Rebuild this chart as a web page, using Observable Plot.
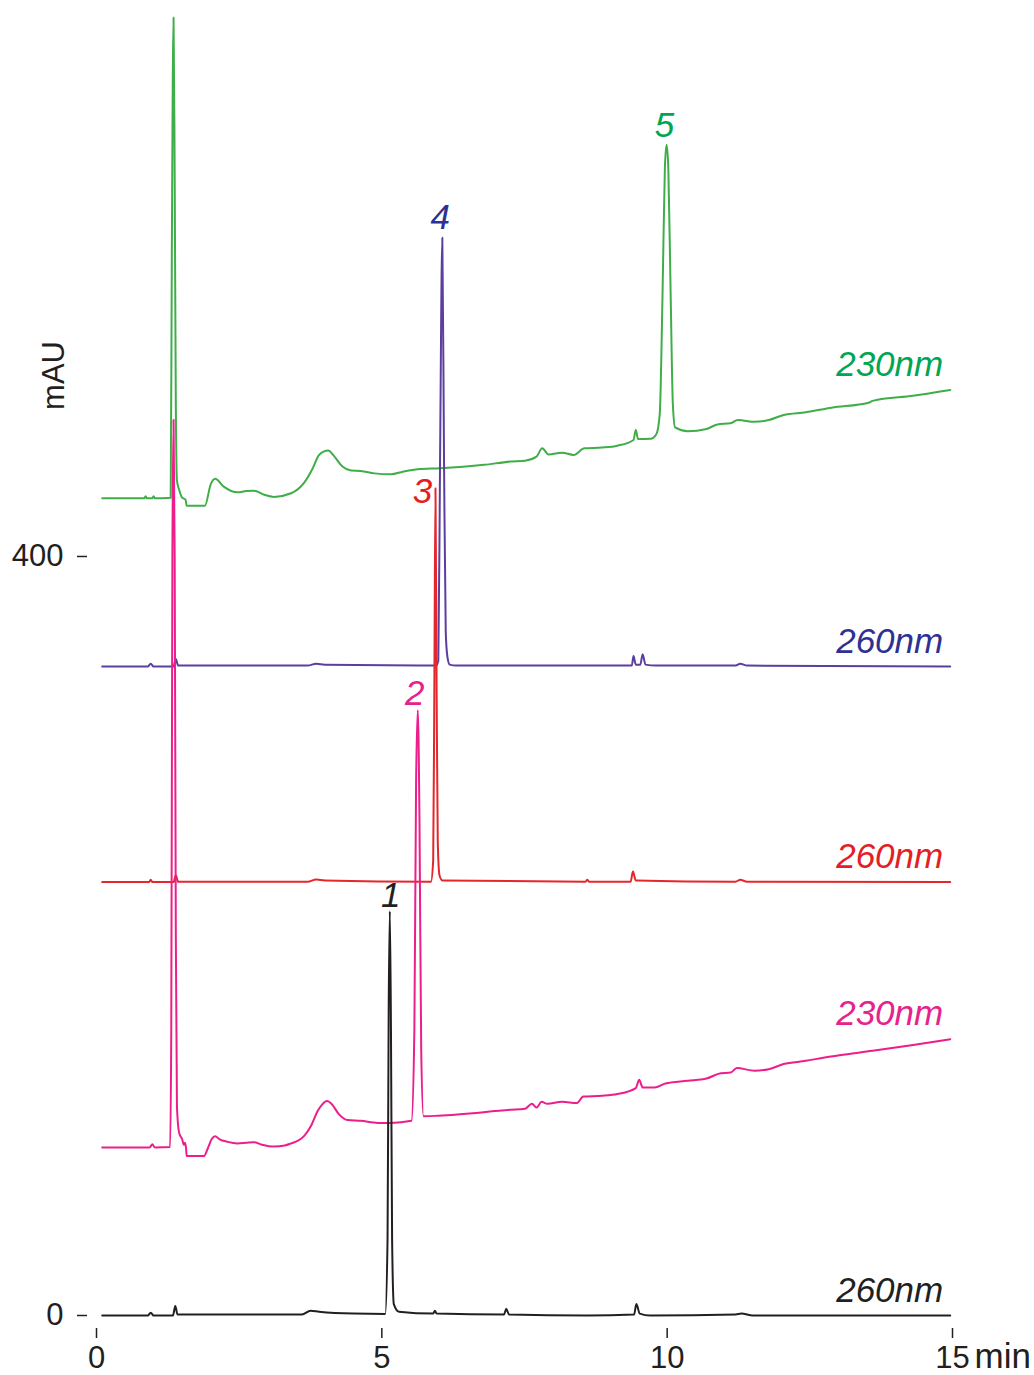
<!DOCTYPE html>
<html><head><meta charset="utf-8">
<script src="https://cdn.jsdelivr.net/npm/d3@7"></script>
<script src="https://cdn.jsdelivr.net/npm/@observablehq/plot@0.6"></script>
<style>html,body{margin:0;padding:0;background:#fff;}</style>
</head><body><div id="chart"></div>
<script>
// ---- data: [time (min), signal (mAU, with trace offset)] ----
const xTicks = [0, 5, 10, 15];
const yTicks = [0, 400];

const black260 = [[0.10,0],[0.90,0],[0.95,1.5],[1.00,0],[1.34,0],[1.38,5],[1.42,0.5],[3.60,0.5],[3.75,2.5],[3.90,2],[4.50,1],[5.06,0.8],[5.10,40],[5.12,160],[5.14,213],[5.16,150],[5.18,40],[5.21,6],[5.30,2],[5.90,1],[5.93,2.5],[5.96,1],[7.14,0.5],[7.18,3.5],[7.23,0.5],[8.60,0],[9.42,0.5],[9.46,6],[9.52,1],[9.70,0],[11.20,0.5],[11.30,1],[11.50,0],[14.96,0]];

const pink230 = [[0.10,88.6],[0.93,88.6],[0.98,90.2],[1.02,88.6],[1.29,88.8],[1.31,150],[1.33,400],[1.35,472],[1.37,400],[1.39,200],[1.41,110],[1.45,96],[1.50,93],[1.53,90],[1.55,91],[1.57,88],[1.58,84],[1.88,84],[1.95,88],[2.02,93],[2.08,94.4],[2.15,93],[2.30,91.5],[2.47,90.7],[2.62,91],[2.76,91.3],[2.90,90],[3.11,89],[3.30,89.6],[3.41,90.7],[3.55,92.5],[3.64,94.7],[3.76,100],[3.88,108],[3.95,111],[4.04,113],[4.12,111.5],[4.25,106],[4.40,103],[4.63,102.6],[4.93,101.5],[5.16,101.5],[5.52,102.6],[5.57,150],[5.60,280],[5.63,319],[5.66,260],[5.69,140],[5.73,105],[5.99,105.3],[7.25,108.4],[7.51,109],[7.63,111.6],[7.71,109.6],[7.80,112.6],[7.90,111.6],[8.16,112.6],[8.42,112],[8.53,115.4],[8.86,115.8],[9.13,116.7],[9.45,119.8],[9.51,124.2],[9.57,120.2],[9.78,120.2],[9.97,122.3],[10.36,123.7],[10.69,124.9],[10.94,127.7],[11.11,128],[11.22,130.4],[11.53,129],[11.78,129.8],[12.04,132.5],[12.43,134.2],[12.76,136],[13.02,137.2],[13.60,139.5],[14.31,142.6],[14.96,145.6]];

const red260 = [[0.10,228.4],[0.92,228.4],[0.95,229.6],[0.98,228.4],[1.35,228.4],[1.39,232],[1.43,228.6],[3.70,228.6],[3.85,229.8],[4.00,229.3],[5.86,228.6],[5.90,240],[5.92,330],[5.94,436],[5.96,330],[5.98,250],[6.01,232],[6.06,229.3],[8.57,228.6],[8.60,229.6],[8.63,228.6],[9.36,228.6],[9.40,234],[9.45,229.3],[11.20,228.6],[11.28,229.6],[11.40,228.6],[14.96,228.4]];

const blue260 = [[0.10,342],[0.90,342],[0.95,343.5],[1.00,342],[1.35,342],[1.39,346],[1.43,342.5],[3.70,342.5],[3.85,343.5],[4.00,343],[5.95,342.5],[5.99,345],[6.02,450],[6.06,568],[6.09,450],[6.12,360],[6.15,347],[6.19,343],[6.30,342.5],[9.38,342.5],[9.41,347.5],[9.45,343],[9.53,343],[9.57,348.5],[9.62,343],[9.80,342.5],[11.20,342.5],[11.28,343.5],[11.40,342.5],[14.96,342]];

const green230 = [[0.10,430.7],[0.84,430.7],[0.86,431.8],[0.88,430.7],[0.98,430.7],[1.00,431.8],[1.02,430.7],[1.30,431],[1.32,560],[1.35,684],[1.37,600],[1.39,480],[1.41,440],[1.45,435],[1.50,431],[1.56,430],[1.58,426.7],[1.90,426.7],[2.00,437.9],[2.08,440.9],[2.23,436.8],[2.47,433.8],[2.62,434.5],[2.76,434.7],[2.94,432.5],[3.11,431.4],[3.41,433.3],[3.64,438.9],[3.79,446.5],[3.90,453.5],[4.06,455.8],[4.17,452.6],[4.31,447.4],[4.46,445.3],[4.63,445.1],[4.87,443.8],[5.16,443.3],[5.37,444.7],[5.63,446],[6.02,446.5],[6.79,448.3],[7.25,450],[7.51,450.5],[7.71,452.6],[7.81,457],[7.92,453.8],[8.16,454.7],[8.36,453.5],[8.55,457],[8.86,457.4],[9.13,458.4],[9.41,461.4],[9.45,466.7],[9.49,461.9],[9.71,462],[9.81,464.4],[9.87,475],[9.92,540],[9.96,605],[9.99,617],[10.02,605],[10.06,540],[10.10,480],[10.14,468],[10.36,466],[10.69,467.2],[10.88,469.6],[11.11,470.2],[11.24,471.9],[11.53,471],[11.78,471.9],[12.04,474.6],[12.43,476],[12.88,478.4],[13.53,481],[13.60,482],[14.31,484.7],[14.96,487.7]];

const traceLabels = ["230nm", "260nm", "260nm", "230nm", "260nm"];
const peakNames = ["1", "2", "3", "4", "5"];
const peakTimes = [5.14, 5.63, 5.94, 6.06, 9.99];
const peakHeights = [213, 319, 436, 568, 617];

// ---- styles ----
const traces = [
  {data: green230, label: traceLabels[0], line: "#3fae49", text: "#00a651"},
  {data: blue260,  label: traceLabels[1], line: "#5b3f9e", text: "#2e3192"},
  {data: red260,   label: traceLabels[2], line: "#e5262b", text: "#e31e24"},
  {data: pink230,  label: traceLabels[3], line: "#ec1e8c", text: "#e6228c"},
  {data: black260, label: traceLabels[4], line: "#231f20", text: "#231f20"}
];
const peakStyle = [
  {fill: "#231f20", dx: 1,   dy: -4},
  {fill: "#e6228c", dx: -3,  dy: -5},
  {fill: "#e31e24", dx: -13, dy: 15},
  {fill: "#2e3192", dx: -2,  dy: -9},
  {fill: "#00a651", dx: -2,  dy: -8}
];
const ink = "#231f20";

const marks = [];
traces.forEach(s => {
  marks.push(Plot.line(s.data, {x: d => d[0], y: d => d[1], stroke: s.line, strokeWidth: 2, curve: "monotone-x"}));
});
traces.forEach(s => {
  marks.push(Plot.text([s.data[s.data.length - 1]], {
    x: d => d[0], y: d => d[1], text: () => s.label,
    textAnchor: "end", lineAnchor: "bottom", dx: -7, dy: -14,
    fill: s.text, fontSize: 35, fontStyle: "italic"
  }));
});
peakNames.forEach((name, i) => {
  const st = peakStyle[i];
  marks.push(Plot.text([i], {
    x: j => peakTimes[j], y: j => peakHeights[j], text: j => peakNames[j],
    textAnchor: "middle", lineAnchor: "bottom", dx: st.dx, dy: st.dy,
    fill: st.fill, fontSize: 35, fontStyle: "italic"
  }));
});
marks.push(Plot.axisX({ticks: xTicks, tickSize: 10, dy: 13, tickPadding: 7, fontSize: 31, label: null, stroke: ink, fill: ink, strokeWidth: 1.5, tickFormat: d => String(d)}));
marks.push(Plot.axisY({ticks: yTicks, tickSize: 10, dx: -9, tickPadding: 14, fontSize: 31, label: null, stroke: ink, fill: ink, strokeWidth: 1.5, tickFormat: d => String(d)}));
marks.push(Plot.text(["min"], {text: d => d, frameAnchor: "bottom-right", textAnchor: "start", lineAnchor: "top", dx: 22, dy: 28, fontSize: 35, fill: ink}));
marks.push(Plot.text(["mAU"], {text: d => d, frameAnchor: "top-left", rotate: -90, textAnchor: "middle", lineAnchor: "middle", dx: -42, dy: 375, fontSize: 31, fill: ink}));

const chart = Plot.plot({
  width: 1034,
  height: 1375,
  marginLeft: 96,
  marginRight: 82,
  marginTop: 0,
  marginBottom: 60,
  x: {domain: [0, 15]},
  y: {domain: [0, 693]},
  style: {fontFamily: "'Liberation Sans', Arial, sans-serif", background: "#fff", overflow: "visible"},
  marks
});
document.getElementById("chart").appendChild(chart);
</script>
</body></html>
